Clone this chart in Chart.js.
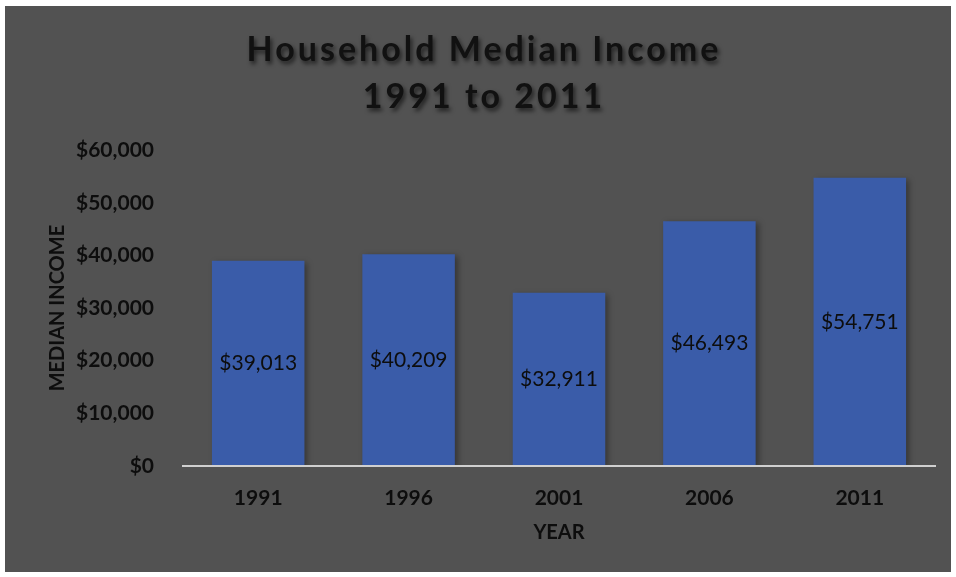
<!DOCTYPE html>
<html>
<head>
<meta charset="utf-8">
<script src="https://cdn.jsdelivr.net/npm/chart.js@4"></script>
<style>
    html, body { margin: 0; padding: 0; background: #ffffff; }
    #frame { position: absolute; left: 5px; top: 6px; width: 946px; height: 566px; background: #525252; }
    #wrap { position: absolute; left: 0; top: 0; width: 956px; height: 577px; }
</style>
</head>
<body>
<div id="frame"></div>
<div id="wrap"><canvas id="incomeChart" width="956" height="577"></canvas></div>
<script>
// Household median income
const years = ['1991', '1996', '2001', '2006', '2011'];
const medianIncome = [39013, 40209, 32911, 46493, 54751];
const titleLines = ['Household Median Income', '1991 to 2011'];
const yAxisTitle = 'MEDIAN INCOME';
const xAxisTitle = 'YEAR';

const TEXT = '#0d0d0d';

function money(v) {
    return '$' + v.toLocaleString('en-US');
}

// shadows for the title and bars, then the value labels
const shadowLabels = {
    id: 'shadowLabels',
    beforeDraw(chart) {
        const ctx = chart.ctx;
        ctx.save();
        ctx.letterSpacing = '3px';
        ctx.shadowColor = 'rgba(0,0,0,0.6)';
        ctx.shadowBlur = 4;
        ctx.shadowOffsetX = 2;
        ctx.shadowOffsetY = 3;
    },
    beforeDatasetsDraw(chart) {
        const ctx = chart.ctx;
        ctx.restore();
        ctx.save();
        ctx.shadowColor = 'rgba(0,0,0,0.35)';
        ctx.shadowBlur = 6;
        ctx.shadowOffsetX = 3;
        ctx.shadowOffsetY = 2;
    },
    afterDatasetsDraw(chart) {
        const ctx = chart.ctx;
        ctx.restore();
        const meta = chart.getDatasetMeta(0);
        ctx.save();
        ctx.font = '21px Lato';
        ctx.fillStyle = TEXT;
        ctx.textAlign = 'center';
        ctx.textBaseline = 'middle';
        meta.data.forEach((bar, i) => {
            const y = (bar.y + bar.base) / 2;
            ctx.fillText(money(medianIncome[i]), bar.x, y);
        });
        ctx.restore();
    }
};

new Chart(document.getElementById('incomeChart'), {
    type: 'bar',
    data: {
        labels: years,
        datasets: [{
            label: 'Median income',
            data: medianIncome,
            backgroundColor: '#3a5ca9',
            borderWidth: 0,
            categoryPercentage: 1,
            barPercentage: 0.615
        }]
    },
    options: {
        responsive: false,
        animation: false,
        devicePixelRatio: 1,
        layout: { padding: { left: 33, right: 21, top: 0, bottom: 0 } },
        plugins: {
            legend: { display: false },
            tooltip: { enabled: false },
            title: {
                display: true,
                text: titleLines,
                color: '#111111',
                font: { family: 'Lato', size: 34, weight: 'bold', lineHeight: 1.4 },
                padding: { top: 26, bottom: 29 }
            }
        },
        scales: {
            x: {
                afterFit(scale) { scale.height = 111; },
                grid: { display: false, drawTicks: false, z: 1 },
                border: { display: true, color: '#d0d0d0', width: 2, z: 1 },
                ticks: {
                    z: 1,
                    color: TEXT,
                    padding: 20,
                    font: { family: 'Lato', size: 21, weight: 'bold' }
                },
                title: {
                    display: true,
                    text: xAxisTitle,
                    color: TEXT,
                    padding: { top: 0, bottom: 32 },
                    font: { family: 'Lato', size: 20, weight: 'bold' }
                }
            },
            y: {
                min: 0,
                max: 60000,
                afterFit(scale) { scale.width = 150; },
                grid: { display: false, drawTicks: false, z: 1 },
                border: { display: false, z: 1 },
                ticks: {
                    z: 1,
                    stepSize: 10000,
                    color: TEXT,
                    padding: 29,
                    font: { family: 'Lato', size: 21, weight: 'bold' },
                    callback: v => money(v)
                },
                title: {
                    display: true,
                    text: yAxisTitle,
                    color: TEXT,
                    padding: { top: 13, bottom: 0 },
                    font: { family: 'Lato', size: 20, weight: 'bold' }
                }
            }
        }
    },
    plugins: [shadowLabels]
});
</script>
</body>
</html>
